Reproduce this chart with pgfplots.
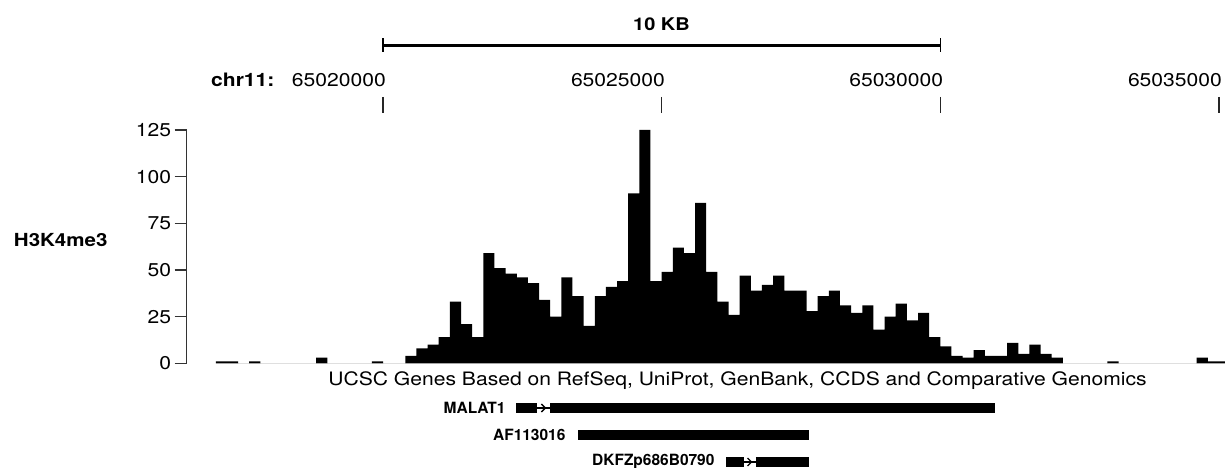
\documentclass[border=0pt]{standalone}
\usepackage{fontspec}
\setmainfont[FakeStretch=1.14]{TeX Gyre Heros}
\newfontfamily\genefont{TeX Gyre Heros}
\usepackage{pgfplots}
\pgfplotsset{compat=1.18}
\usetikzlibrary{arrows.meta}
\newcommand{\fs}[1]{\fontsize{#1}{#1}\selectfont}

\pgfplotstableread{
x y
65017.0 1
65017.2 1
65017.4 0
65017.6 1
65017.8 0
65018.0 0
65018.2 0
65018.4 0
65018.6 0
65018.8 3
65019.0 0
65019.2 0
65019.4 0
65019.6 0
65019.8 1
65020.0 0
65020.2 0
65020.4 4
65020.6 8
65020.8 10
65021.0 14
65021.2 33
65021.4 21
65021.6 14
65021.8 59
65022.0 51
65022.2 48
65022.4 46
65022.6 43
65022.8 34
65023.0 25
65023.2 46
65023.4 36
65023.6 20
65023.8 36
65024.0 41
65024.2 44
65024.4 91
65024.6 125
65024.8 44
65025.0 49
65025.2 62
65025.4 59
65025.6 86
65025.8 49
65026.0 33
65026.2 26
65026.4 47
65026.6 39
65026.8 42
65027.0 47
65027.2 39
65027.4 39
65027.6 28
65027.8 36
65028.0 39
65028.2 31
65028.4 27
65028.6 31
65028.8 18
65029.0 25
65029.2 32
65029.4 23
65029.6 27
65029.8 14
65030.0 9
65030.2 4
65030.4 3
65030.6 7
65030.8 4
65031.0 4
65031.2 11
65031.4 5
65031.6 10
65031.8 5
65032.0 3
65032.2 0
65032.4 0
65032.6 0
65032.8 0
65033.0 1
65033.2 0
65033.4 0
65033.6 0
65033.8 0
65034.0 0
65034.2 0
65034.4 0
65034.6 3
65034.8 1
65035.0 1
65035.2 0
}\signal

\begin{document}
\begin{tikzpicture}[x=1pt,y=1pt]
\useasboundingbox (0,0) rectangle (1225,468);
% ---- signal track
\begin{axis}[
  at={(186.5pt,104.7pt)}, anchor=south west,
  scale only axis, width=1038.5pt, height=233.3pt,
  xmin=65016.474, xmax=65035.109,
  ymin=0, ymax=125,
  axis x line=none, axis y line*=left,
  ytick={0,25,50,75,100,125},
  ytick align=outside, major tick length=12pt,
  y axis line style={line width=1.2pt, draw=black!80},
  ytick style={line width=1.2pt, draw=black!80},
  /pgf/number format/assume math mode=true,
  yticklabel style={font=\fs{18.5}},
  clip=false,
]
\addplot[ybar interval, fill=black, draw=none] table[x=x,y=y] {\signal};
\end{axis}
% ---- gene track
\begin{axis}[
  at={(186.5pt,0pt)}, anchor=south west,
  scale only axis, width=1038.5pt, height=78pt,
  xmin=65016.474, xmax=65035.109,
  ymin=-468, ymax=-390,
  hide axis, clip=false,
]
% MALAT1
\addplot[line width=10pt] coordinates {(65022.387,-408) (65022.763,-408)};
\addplot[line width=1.3pt, -{Straight Barb[length=4pt,width=8pt,line width=1.3pt]}] coordinates {(65022.763,-408) (65022.93,-408)};
\addplot[line width=1.3pt] coordinates {(65022.90,-408) (65023.0,-408)};
\addplot[line width=10pt] coordinates {(65022.997,-408) (65030.982,-408)};
% AF113016
\addplot[line width=10pt] coordinates {(65023.499,-435) (65027.644,-435)};
% DKFZp686B0790
\addplot[line width=10pt] coordinates {(65026.155,-462) (65026.478,-462)};
\addplot[line width=1.3pt, -{Straight Barb[length=4pt,width=8pt,line width=1.3pt]}] coordinates {(65026.478,-462) (65026.63,-462)};
\addplot[line width=1.3pt] coordinates {(65026.60,-462) (65026.70,-462)};
\addplot[line width=10pt] coordinates {(65026.693,-462) (65027.644,-462)};
\node[anchor=east, xshift=-7pt, font=\genefont\bfseries\fs{15.5}] at (axis cs:65022.387,-408) {MALAT1};
\node[anchor=east, xshift=-9pt, font=\genefont\bfseries\fs{15.5}] at (axis cs:65023.499,-435) {AF113016};
\node[anchor=east, xshift=-8pt, font=\genefont\bfseries\fs{15.5}] at (axis cs:65026.155,-462) {DKFZp686B0790};
\end{axis}
% ---- ruler and labels
\node[font=\bfseries\fs{17.5}] at (661.5,444) {10 KB};
\draw[line width=3.5pt] (383,422.5) -- (940.3,422.5);
\draw[line width=1.5pt] (383,429.5) -- (383,415.5);
\draw[line width=1.5pt] (940.3,429.5) -- (940.3,415.5);
\node[anchor=base east, font=\bfseries\fs{18.5}] at (278,381) {chr11:};
\node[anchor=base east, font=\fs{18.5}, inner sep=0pt] at (386,381) {65020000};
\node[anchor=base east, font=\fs{18.5}, inner sep=0pt] at (665,381) {65025000};
\node[anchor=base east, font=\fs{18.5}, inner sep=0pt] at (943.3,381) {65030000};
\node[anchor=base east, font=\fs{18.5}, inner sep=0pt] at (1222,381) {65035000};
\foreach \p in {383,661.65,940.3,1218.95} \draw[line width=1.5pt, draw=black!85] (\p,371) -- (\p,355);
\node[font=\bfseries\fs{18}] at (60.7,227.7) {H3K4me3};
\node[font=\fs{18.5}] at (737.5,87) {UCSC Genes Based on RefSeq, UniProt, GenBank, CCDS and Comparative Genomics};
\end{tikzpicture}
\end{document}
